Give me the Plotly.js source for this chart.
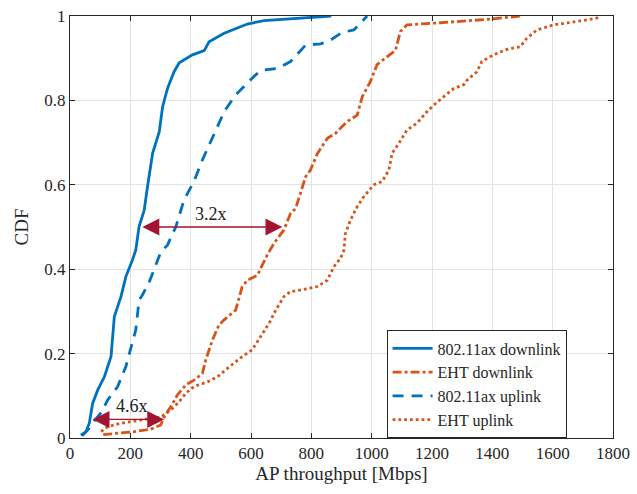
<!DOCTYPE html>
<html>
<head>
<meta charset="utf-8">
<script src="https://cdn.plot.ly/plotly-3.0.1.min.js"></script>
<style>html,body{margin:0;padding:0;background:#fff;}#chart{width:637px;height:494px;}</style>
</head>
<body>
<div id="chart"></div>
<script>
// 802.11ax downlink
const axDlX = [36, 53, 64, 75, 92, 114, 136, 147, 169, 185, 207, 218, 229, 246, 257, 274, 296, 307, 323, 345, 362, 406, 445, 461, 511, 588, 643, 866];
const axDlY = [0.007, 0.015, 0.035, 0.082, 0.114, 0.145, 0.193, 0.288, 0.335, 0.382, 0.422, 0.445, 0.501, 0.540, 0.596, 0.675, 0.726, 0.785, 0.828, 0.868, 0.889, 0.908, 0.918, 0.939, 0.959, 0.981, 0.989, 1.0];
// EHT downlink
const ehtDlX = [110, 125, 213, 268, 301, 312, 334, 356, 384, 411, 439, 450, 472, 494, 511, 549, 571, 588, 622, 632, 654, 676, 709, 731, 748, 764, 781, 797, 820, 853, 880, 919, 952, 969, 996, 1018, 1051, 1079, 1095, 1117, 1228, 1382, 1498];
const ehtDlY = [0.008, 0.009, 0.015, 0.021, 0.031, 0.050, 0.074, 0.102, 0.126, 0.137, 0.153, 0.185, 0.232, 0.268, 0.280, 0.303, 0.359, 0.374, 0.386, 0.402, 0.434, 0.461, 0.493, 0.532, 0.544, 0.580, 0.619, 0.635, 0.674, 0.710, 0.722, 0.750, 0.765, 0.809, 0.845, 0.885, 0.904, 0.919, 0.963, 0.979, 0.984, 0.992, 1.0];
// 802.11ax uplink
const axUlX = [40, 60, 80, 103, 125, 158, 185, 202, 218, 229, 240, 263, 279, 301, 323, 345, 351, 378, 411, 439, 478, 511, 522, 549, 610, 632, 687, 731, 781, 831, 864, 902, 941, 985];
const axUlY = [0.005, 0.02, 0.04, 0.06, 0.09, 0.122, 0.169, 0.216, 0.256, 0.327, 0.339, 0.370, 0.398, 0.441, 0.457, 0.493, 0.501, 0.564, 0.608, 0.659, 0.722, 0.773, 0.785, 0.813, 0.857, 0.871, 0.876, 0.892, 0.931, 0.934, 0.943, 0.961, 0.967, 1.0];
// EHT uplink
const ehtUlX = [103, 125, 169, 235, 301, 334, 362, 384, 411, 456, 489, 522, 571, 604, 632, 660, 682, 709, 731, 775, 820, 853, 875, 897, 908, 913, 930, 952, 974, 1007, 1035, 1057, 1068, 1090, 1117, 1150, 1183, 1206, 1239, 1272, 1305, 1316, 1349, 1365, 1404, 1448, 1492, 1514, 1548, 1603, 1680, 1746, 1757];
const ehtUlY = [0.015, 0.027, 0.035, 0.043, 0.050, 0.066, 0.086, 0.106, 0.122, 0.133, 0.145, 0.165, 0.193, 0.209, 0.241, 0.272, 0.303, 0.335, 0.347, 0.352, 0.359, 0.374, 0.406, 0.426, 0.445, 0.485, 0.517, 0.548, 0.572, 0.600, 0.608, 0.635, 0.675, 0.698, 0.730, 0.746, 0.773, 0.789, 0.809, 0.828, 0.837, 0.848, 0.868, 0.892, 0.908, 0.921, 0.927, 0.947, 0.967, 0.979, 0.987, 0.995, 1.0];

const seriesNames = ['802.11ax downlink', 'EHT downlink', '802.11ax uplink', 'EHT uplink'];
const xTicks = [0, 200, 400, 600, 800, 1000, 1200, 1400, 1600, 1800];
const yTicks = [0, 0.2, 0.4, 0.6, 0.8, 1];
const yTickText = ['0', '0.2', '0.4', '0.6', '0.8', '1'];

// annotation arrows: [xStart, xEnd, y, label, labelX, labelY]
const gainArrows = [
  [235, 704, 0.5, '3.2x', 467, 0.53],
  [70, 312, 0.044, '4.6x', 207, 0.077]
];

const blue = '#0072BD', orange = '#D95319', arrowCol = '#A2142F';
const FONT = 'Liberation Serif';

const traces = [
  {x: axDlX, y: axDlY, name: seriesNames[0], mode: 'lines', line: {color: blue, width: 2.8, dash: 'solid'}},
  {x: ehtDlX, y: ehtDlY, name: seriesNames[1], mode: 'lines', line: {color: orange, width: 2.8, dash: '9px,3px,3px,3px'}},
  {x: axUlX, y: axUlY, name: seriesNames[2], mode: 'lines', line: {color: blue, width: 2.8, dash: '11px,8px'}},
  {x: ehtUlX, y: ehtUlY, name: seriesNames[3], mode: 'lines', line: {color: orange, width: 2.8, dash: '2.8px,3px'}}
];

const annotations = [];
gainArrows.forEach(a => {
  annotations.push({x: a[1], y: a[2], ax: a[0], ay: a[2], xref: 'x', yref: 'y', axref: 'x', ayref: 'y',
    text: '', showarrow: true, arrowhead: 2, startarrowhead: 2, arrowside: 'end+start',
    arrowsize: 2.6, startarrowsize: 2.6, arrowwidth: 1.3, arrowcolor: arrowCol, standoff: 0, startstandoff: 0});
  annotations.push({x: a[4], y: a[5], xref: 'x', yref: 'y', text: a[3], showarrow: false,
    font: {family: FONT, size: 18, color: '#222'}});
});

const axisCommon = {
  showline: true, linecolor: '#262626', linewidth: 1, mirror: 'ticks',
  ticks: 'inside', ticklen: 5, tickcolor: '#262626',
  showgrid: true, gridcolor: '#e3e3e3', gridwidth: 1, zeroline: false,
  tickfont: {family: FONT, size: 17, color: '#262626'}
};

const layout = {
  width: 637, height: 494,
  margin: {l: 70, r: 24, t: 16, b: 56},
  paper_bgcolor: '#fff', plot_bgcolor: '#fff',
  font: {family: FONT},
  showlegend: true,
  xaxis: Object.assign({}, axisCommon, {range: [0, 1800], tickvals: xTicks, ticktext: xTicks.map(String),
    title: {text: 'AP throughput [Mbps]', font: {family: FONT, size: 19, color: '#262626'}, standoff: 4}}),
  yaxis: Object.assign({}, axisCommon, {range: [0, 1], tickvals: yTicks, ticktext: yTickText,
    title: {text: 'CDF', font: {family: FONT, size: 19, color: '#262626'}, standoff: 10}}),
  legend: {x: 0.583, y: 0.255, xanchor: 'left', yanchor: 'top', bgcolor: '#fff',
    bordercolor: '#262626', borderwidth: 1, font: {family: FONT, size: 16, color: '#262626'},
    tracegroupgap: 0, itemwidth: 40},
  annotations: annotations
};

Plotly.newPlot('chart', traces, layout, {displayModeBar: false, staticPlot: true});
</script>
</body>
</html>
